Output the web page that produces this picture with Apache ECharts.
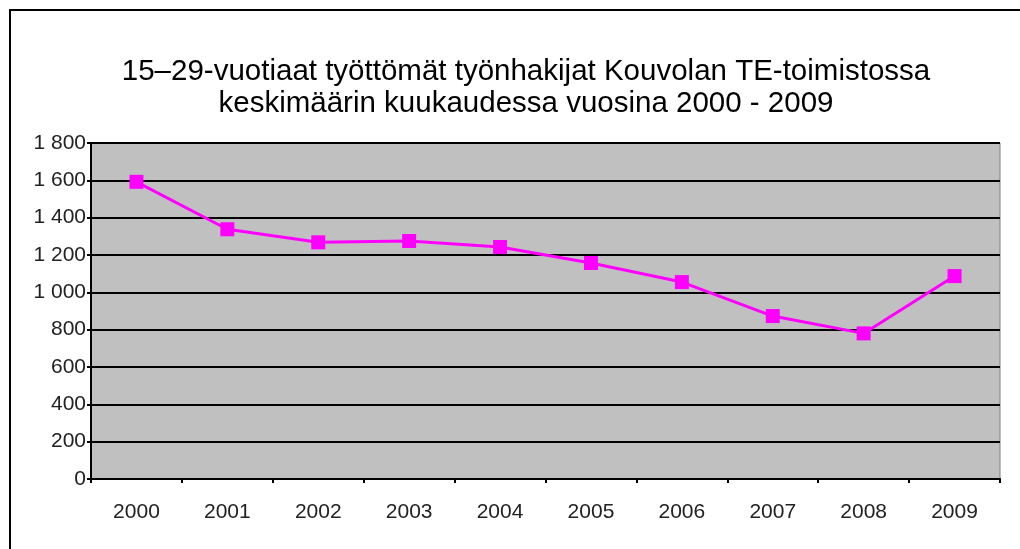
<!DOCTYPE html>
<html>
<head>
<meta charset="utf-8">
<script src="https://cdn.jsdelivr.net/npm/echarts@6/dist/echarts.min.js"></script>
<style>
  html, body { margin: 0; padding: 0; background: #fff; }
  #chart { width: 1020px; height: 549px; }
</style>
</head>
<body>
<div id="chart"></div>
<script>
const years = ['2000', '2001', '2002', '2003', '2004', '2005', '2006', '2007', '2008', '2009']
const unemployed = [1592, 1338, 1268, 1275, 1243, 1157, 1055, 873, 780, 1087]
const titleLines = ['15–29-vuotiaat työttömät työnhakijat Kouvolan TE-toimistossa', 'keskimäärin kuukaudessa vuosina 2000 - 2009']

const myChart = echarts.init(document.getElementById('chart'))
const font = 'Liberation Sans, Arial, sans-serif'

const option = {
  animation: false,
  backgroundColor: '#fff',
  title: {
    text: titleLines.join('\n'),
    left: 521,
    top: 51,
    textAlign: 'center',
    textStyle: {
      fontFamily: font,
      fontSize: 29.5,
      fontWeight: 'normal',
      color: '#000',
      lineHeight: 32
    }
  },
  graphic: [{
    type: 'rect',
    shape: { x: 10, y: 10, width: 1030, height: 560 },
    style: { fill: 'none', stroke: '#000', lineWidth: 2 },
    silent: true
  }],
  grid: {
    left: 91,
    right: 20,
    top: 143,
    bottom: 70,
    show: true,
    backgroundColor: '#c0c0c0',
    borderColor: '#808080',
    borderWidth: 1
  },
  xAxis: {
    type: 'category',
    data: years,
    boundaryGap: true,
    axisLine: { lineStyle: { color: '#000', width: 2 } },
    axisTick: { show: true, length: 4, lineStyle: { color: '#000', width: 2 } },
    axisLabel: {
      margin: 23,
      fontFamily: font,
      fontSize: 21,
      color: '#222'
    }
  },
  yAxis: {
    type: 'value',
    min: 0,
    max: 1800,
    interval: 200,
    axisLine: { show: true, lineStyle: { color: '#000', width: 2 } },
    axisTick: { show: true, length: 4, lineStyle: { color: '#000', width: 2 } },
    axisLabel: {
      margin: 5,
      fontFamily: font,
      fontSize: 21,
      color: '#222',
      formatter(v) {
        return v >= 1000 ? Math.floor(v / 1000) + ' ' + String(v % 1000).padStart(3, '0') : String(v)
      }
    },
    splitLine: { lineStyle: { color: '#000', width: 2 } }
  },
  series: [{
    name: 'Työnhakijat',
    type: 'line',
    data: unemployed,
    symbol: 'rect',
    symbolSize: 14,
    lineStyle: { color: '#ff00ff', width: 3 },
    itemStyle: { color: '#ff00ff' }
  }]
}
myChart.setOption(option)
</script>
</body>
</html>
